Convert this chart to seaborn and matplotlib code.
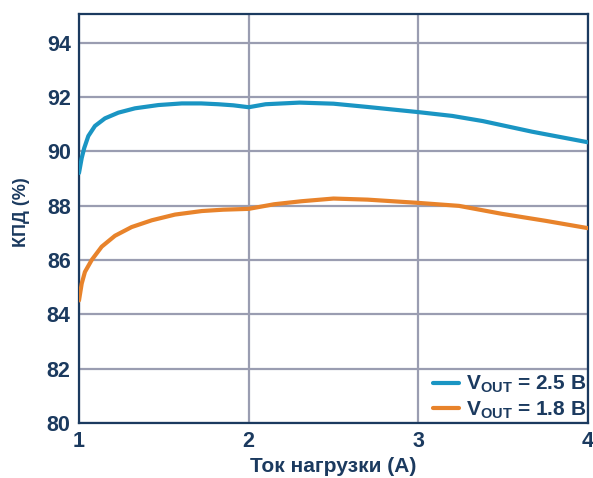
import matplotlib
matplotlib.use("Agg")
import matplotlib.pyplot as plt
import pandas as pd
import seaborn as sns

# values
x_25 = [1.0, 1.016, 1.031, 1.055, 1.094, 1.153, 1.232, 1.33, 1.468, 1.606, 1.72,
        1.82, 1.91, 2.0, 2.1, 2.3, 2.5, 2.7, 3.0, 3.2, 3.38, 3.67, 4.0]
eff_25 = [89.2, 89.75, 90.12, 90.56, 90.93, 91.21, 91.42, 91.58, 91.7, 91.76, 91.76,
          91.73, 91.69, 91.62, 91.73, 91.79, 91.75, 91.63, 91.44, 91.3, 91.11, 90.72, 90.33]

x_18 = [1.0, 1.016, 1.035, 1.075, 1.134, 1.212, 1.31, 1.429, 1.566, 1.724, 1.85,
        2.0, 2.15, 2.31, 2.5, 2.7, 3.0, 3.24, 3.49, 3.75, 4.0]
eff_18 = [84.51, 85.13, 85.56, 86.0, 86.49, 86.89, 87.21, 87.46, 87.67, 87.8, 87.85,
          87.88, 88.05, 88.16, 88.26, 88.22, 88.1, 87.99, 87.7, 87.44, 87.17]

labels = ["V$_{\\mathregular{OUT}}$ = 2.5 В", "V$_{\\mathregular{OUT}}$ = 1.8 В"]
colors = ["#1a95c3", "#e8832b"]
x_ticks = [1, 2, 3, 4]
y_ticks = [80, 82, 84, 86, 88, 90, 92, 94]

navy = "#1b3a5f"
grid_col = "#9a9db1"

df = pd.concat([
    pd.DataFrame({"x": x_25, "y": eff_25, "s": labels[0]}),
    pd.DataFrame({"x": x_18, "y": eff_18, "s": labels[1]}),
])

sns.set_style("white")
plt.rcParams["font.family"] = ["Liberation Sans", "DejaVu Sans"]
plt.rcParams["font.weight"] = "bold"
plt.rcParams["mathtext.default"] = "regular"

fig = plt.figure(figsize=(5.93, 4.78), dpi=100)
ax = fig.add_axes([0.1332, 0.115, 0.8584, 0.8557])

for xv in x_ticks:
    ax.axvline(xv, color=grid_col, lw=1.6, zorder=0)
for yv in y_ticks:
    ax.axhline(yv, color=grid_col, lw=1.6, zorder=0)

sns.lineplot(data=df, x="x", y="y", hue="s", palette=colors, lw=3,
             ax=ax, sort=False, estimator=None, zorder=3)

ax.set_xlim(1, 4)
ax.set_ylim(80, 95.05)
ax.set_xticks(x_ticks)
ax.set_yticks(y_ticks)
ax.tick_params(axis="both", length=0, labelsize=15.5, labelcolor=navy, pad=6)
for lab in ax.get_xticklabels() + ax.get_yticklabels():
    lab.set_fontweight("bold")

for sp in ax.spines.values():
    sp.set_color(navy)
    sp.set_linewidth(1.6)

ax.set_xlabel("Ток нагрузки (А)", fontsize=15, fontweight="bold", color=navy)
ax.set_ylabel("КПД (%)", fontsize=13, fontweight="bold", color=navy)
ax.xaxis.set_label_coords(0.5, -0.084)
ax.yaxis.set_label_coords(-0.096, 0.516)

leg = ax.legend(loc="lower right", frameon=False, fontsize=15, handlelength=1.28,
                handletextpad=0.3, labelspacing=0.2, borderpad=0, borderaxespad=0.1)
for t in leg.get_texts():
    t.set_color(navy)
    t.set_fontweight("bold")

fig.savefig("out.png", dpi=100)
